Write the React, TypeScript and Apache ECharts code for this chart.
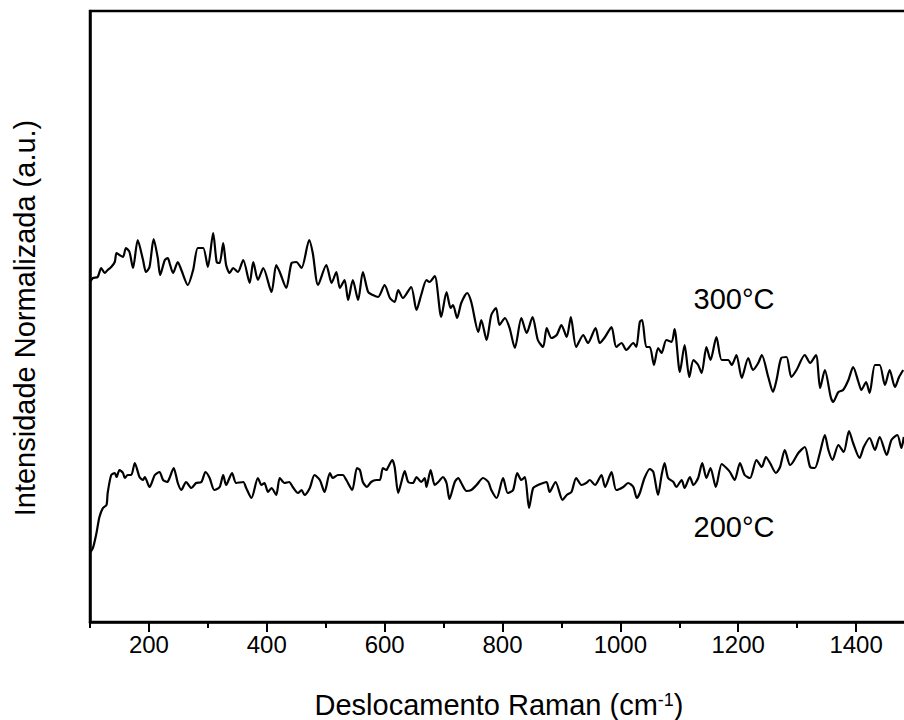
import React, { useEffect, useRef } from "react";
import * as echarts from "echarts";

// Raman shift (cm-1) and normalized intensity (a.u.) for the 300 °C sample
const wn300 = [100,105,113,119,125,130,136,142,145,150,156,161,167,173,181,190,195,201,208,215,219,227,232,235,241,249,255,266,275,283,292,300,309,315,320,326,331,337,343,351,360,371,377,385,394,408,416,422,433,442,450,459,472,478,487,501,510,518,524,532,538,546,555,563,572,580,589,600,609,617,623,631,645,654,662,671,676,685,696,705,712,716,723,730,740,747,759,764,773,781,789,795,804,812,821,832,841,851,860,869,875,883,892,900,909,916,925,937,945,958,965,974,985,993,1002,1010,1022,1027,1033,1037,1044,1050,1057,1064,1070,1078,1087,1092,1101,1109,1117,1124,1132,1138,1146,1153,1163,1172,1183,1189,1197,1206,1217,1225,1234,1240,1251,1259,1265,1273,1282,1290,1299,1313,1322,1332,1339,1347,1357,1361,1370,1378,1387,1395,1404,1409,1417,1423,1432,1440,1449,1457,1466,1473,1480];
const int300 = [340,344,345,354,349,352,355,360,369,367,365,374,370,354,382,362,350,355,383,364,347,362,364,359,349,360,352,337,352,374,374,355,389,360,359,379,357,349,354,350,362,339,360,342,354,330,357,350,334,359,360,354,382,369,337,357,339,350,334,342,322,342,322,350,330,327,325,337,324,320,332,324,335,312,327,342,340,346,305,330,314,317,304,319,329,320,290,302,282,307,314,297,304,294,274,304,289,305,282,275,294,284,287,297,285,305,275,287,279,294,279,285,295,275,279,272,279,275,300,302,275,275,257,274,269,282,280,293,250,277,245,262,257,249,275,262,285,262,262,257,267,244,264,252,259,267,245,230,242,264,265,245,252,267,259,267,234,252,225,220,230,232,242,255,240,232,240,229,257,257,237,252,235,245,252];

// Raman shift (cm-1) and normalized intensity (a.u.) for the 200 °C sample
const wn200 = [100,105,111,116,122,128,130,136,142,145,150,156,159,164,170,176,184,190,193,201,210,218,224,231,235,242,249,255,263,272,280,289,296,303,311,320,326,331,341,348,360,365,374,385,391,396,402,408,416,422,430,438,444,453,459,464,473,481,490,498,507,512,521,529,535,545,553,558,563,570,577,586,592,597,603,606,613,617,623,628,634,640,648,654,662,668,671,678,685,691,699,705,710,719,725,730,739,747,756,767,776,781,790,801,809,818,825,832,838,845,852,860,869,875,880,890,902,909,917,925,934,942,948,957,968,974,985,993,1005,1013,1022,1028,1033,1041,1050,1056,1064,1070,1075,1081,1090,1095,1104,1109,1118,1124,1132,1139,1146,1153,1162,1172,1180,1186,1194,1203,1211,1220,1231,1240,1247,1254,1264,1271,1279,1288,1293,1302,1313,1322,1330,1339,1347,1353,1360,1370,1379,1388,1395,1406,1413,1423,1432,1440,1452,1460,1470,1477,1481];
const int200 = [69,74,89,105,114,117,129,147,149,145,152,149,144,147,147,159,145,142,145,135,147,150,142,140,144,154,139,132,140,134,139,140,150,144,132,135,147,137,149,139,140,134,124,144,137,139,130,134,127,144,139,140,135,129,132,127,134,147,142,130,149,144,147,147,142,132,154,152,140,135,140,142,142,154,152,155,162,155,129,139,151,140,139,145,140,144,135,152,137,140,145,139,123,140,144,139,131,132,137,144,140,132,124,144,129,132,149,142,145,114,134,137,139,140,130,140,122,127,130,144,137,139,142,137,147,135,150,132,135,139,135,124,129,144,153,150,127,147,159,144,140,135,142,134,145,137,144,159,144,154,135,158,154,150,142,159,147,144,162,155,165,159,149,155,172,157,160,169,175,155,154,170,187,172,162,177,170,191,179,164,175,184,172,185,167,182,187,174,185];

const majorTicks = [200, 400, 600, 800, 1000, 1200, 1400];
const minorTicks = [100, 300, 500, 700, 900, 1100, 1300, 1500];
const seriesNames = ["300°C", "200°C"];
const yTitle = "Intensidade Normalizada (a.u.)";
const xTitleMain = "Deslocamento Raman (cm";
const xTitleSup = "-1";

const FONT = '"Liberation Sans", Arial, Helvetica, sans-serif';

export default function App() {
  const ref = useRef<HTMLDivElement>(null);
  useEffect(() => {
    if (!ref.current) return;
    const chart = echarts.init(ref.current, null, { renderer: "svg" });
    const black = "#000";
    chart.setOption({
      animation: false,
      backgroundColor: "#fff",
      grid: {
        left: 90,
        top: 11,
        width: 825,
        height: 611,
        show: true,
        borderColor: black,
        borderWidth: 2.5,
        backgroundColor: "transparent",
        containLabel: false,
        outerBoundsMode: "none",
      },
      xAxis: [
        {
          type: "value",
          min: 100,
          max: 1500,
          position: "bottom",
          axisLine: { show: true, onZero: false, lineStyle: { color: black, width: 2.5 } },
          axisTick: { show: true, customValues: majorTicks, length: 10, inside: false, lineStyle: { color: black, width: 2 } },
          axisLabel: {
            show: true,
            customValues: majorTicks,
            fontSize: 24,
            color: black,
            fontFamily: FONT,
            margin: 10,
            formatter: (v: number) => String(v),
          },
          splitLine: { show: false },
        },
        {
          type: "value",
          min: 100,
          max: 1500,
          position: "bottom",
          axisLine: { show: false, onZero: false },
          axisTick: { show: true, customValues: minorTicks, length: 6, inside: false, lineStyle: { color: black, width: 2 } },
          axisLabel: { show: false },
          splitLine: { show: false },
        },
      ],
      yAxis: {
        type: "value",
        min: 0,
        max: 611,
        axisLine: { show: true, onZero: false, lineStyle: { color: black, width: 2.5 } },
        axisTick: { show: false },
        axisLabel: { show: false },
        splitLine: { show: false },
      },
      series: [
        {
          name: seriesNames[0],
          type: "line",
          xAxisIndex: 0,
          data: wn300.map((x, i) => [x, int300[i]]),
          showSymbol: false,
          symbol: "none",
          smooth: 0.25,
          lineStyle: { color: black, width: 2.2 },
        },
        {
          name: seriesNames[1],
          type: "line",
          xAxisIndex: 0,
          data: wn200.map((x, i) => [x, int200[i]]),
          showSymbol: false,
          symbol: "none",
          smooth: 0.25,
          lineStyle: { color: black, width: 2.2 },
        },
      ],
      graphic: [
        {
          type: "text",
          x: 734,
          y: 299,
          style: { text: seriesNames[0], fontSize: 29, fontFamily: FONT, fill: black, align: "center", verticalAlign: "middle" },
        },
        {
          type: "text",
          x: 734,
          y: 527,
          style: { text: seriesNames[1], fontSize: 29, fontFamily: FONT, fill: black, align: "center", verticalAlign: "middle" },
        },
        {
          type: "text",
          x: 25,
          y: 318,
          rotation: Math.PI / 2,
          style: { text: yTitle, fontSize: 29, fontFamily: FONT, fill: black, align: "center", verticalAlign: "middle" },
        },
        {
          type: "text",
          x: 499,
          y: 705,
          style: {
            text: `{a|${xTitleMain}}{s|${xTitleSup}}{a|)}`,
            fill: black,
            align: "center",
            verticalAlign: "middle",
            rich: {
              a: { fontSize: 29, fontFamily: FONT, fill: black, verticalAlign: "bottom" },
              s: { fontSize: 18, fontFamily: FONT, fill: black, verticalAlign: "top" },
            },
          },
        },
      ],
    });
    return () => chart.dispose();
  }, []);
  return (
    <div
      ref={ref}
      style={{ position: "fixed", left: 0, top: 0, width: 904, height: 720, background: "#fff" }}
    />
  );
}
